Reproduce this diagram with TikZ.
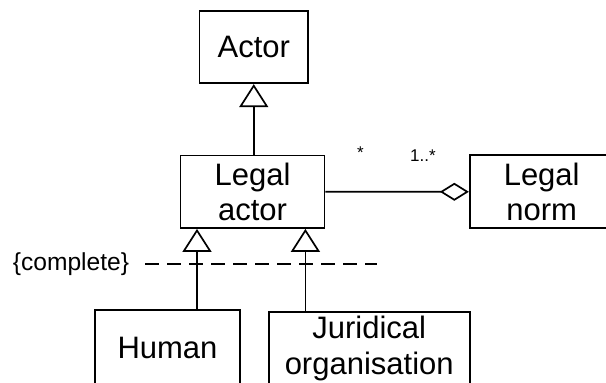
\documentclass[tikz,border=0pt]{standalone}
\usepackage{fontspec}
\setmainfont{Liberation Sans}
\usetikzlibrary{arrows.meta}
\begin{document}
\begin{tikzpicture}[x=1pt,y=-1pt,
  classbox/.style={draw, line width=1.7pt, minimum width=#1, inner sep=0pt,
    align=center, font=\fontsize{31}{35.5}\selectfont},
  gen/.style={line width=1.7pt, -{Triangle[open, length=23pt, width=29pt, line width=1.7pt]}},
  agg/.style={line width=1.7pt, -{Diamond[open, length=29pt, width=18pt, line width=1.7pt]}},
  mult/.style={font=\fontsize{17}{20}\selectfont, inner sep=0pt},
  constraint/.style={font=\fontsize{24.6}{28}\selectfont, inner sep=0pt},
  disjoint/.style={line width=1.9pt, dash pattern=on 14pt off 8pt}]
\useasboundingbox (0,0) rectangle (606,383);
\fill[white] (0,0) rectangle (606,383);

% classes
\node[classbox=108.5pt, minimum height=72.6pt] (actor) at (253.75,47) {Actor};
\node[classbox=144pt, minimum height=72.7pt] (legal) at (252.5,191.7) {Legal\\actor};
\node[classbox=144pt, minimum height=73pt] (norm) at (541.7,191.8) {Legal\\norm};
\node[classbox=145pt, minimum height=76pt] (human) at (167.5,348) {Human};
\node[classbox=201pt, minimum height=74pt] (jur) at (369.2,348.7) {Juridical\\organisation};

% generalisations
\draw[gen] (actor.south |- legal.north) -- (actor.south);
\draw[gen] ([xshift=29.5pt]human.north) -- ([xshift=29.5pt]human.north |- legal.south);
\draw[gen] ([xshift=-63.8pt]jur.north) -- ([xshift=-63.8pt]jur.north |- legal.south);

% aggregation with multiplicities
\draw[agg] (legal.east) -- (norm.west);
\node[mult] (mlegal) at (360.5,153) {*};
\node[mult] (mnorm) at (423,156) {1..*};

% generalisation set constraint
\node[constraint] (complete) at (71,264.3) {\{complete\}};
\coordinate (dashend) at (377,264.3);
\draw[disjoint] ([xshift=16pt]complete.east) -- (dashend);
\end{tikzpicture}
\end{document}
